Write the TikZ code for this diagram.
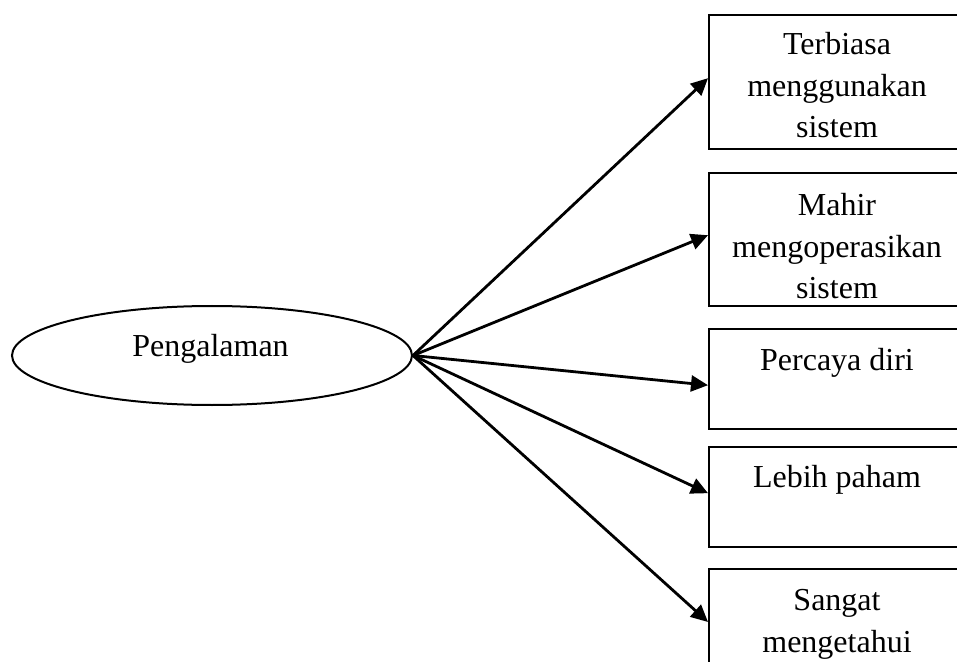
\documentclass[tikz,border=0pt]{standalone}
\usepackage{fontspec}
\setmainfont{Liberation Serif}
\usetikzlibrary{shapes.geometric,arrows.meta}
\begin{document}
\begin{tikzpicture}[x=0.5pt,y=-0.5pt,
  box/.style={draw,line width=1.2pt,rectangle,minimum width=129pt,minimum height=#1,anchor=north west,inner sep=0pt},
  lbl/.style={font=\fontsize{16}{20.75}\selectfont,align=center,anchor=base,inner sep=0pt},
  conn/.style={line width=1.4pt,-{Triangle[length=8.5pt,width=8pt]}}]
\useasboundingbox (0,0) rectangle (957,662);
\clip (0,0) rectangle (957,662);
\node[draw,ellipse,line width=1pt,minimum width=200pt,minimum height=49.5pt,inner sep=0pt] (src) at (212,355.5) {};
\node[lbl] (srct) at (210.5,357) {Pengalaman};
% boxes
\node[box=67pt] (b1) at (708,14) {};
\node[box=66.5pt] (b2) at (708,172) {};
\node[box=50pt] (b3) at (708,328) {};
\node[box=50pt] (b4) at (708,446) {};
\node[box=70pt] (b5) at (708,568) {};
% texts (base anchor = last line's baseline)
\node[lbl] (t1) at (837,138) {Terbiasa\\menggunakan\\sistem};
\begin{scope}
\clip (708,172) rectangle (966,305);
\node[lbl] (t2) at (837,299) {Mahir\\mengoperasikan\\sistem};
\end{scope}
\node[lbl] (t3) at (837,370) {Percaya diri};
\node[lbl] (t4) at (837,487) {Lebih paham};
\node[lbl] (t5) at (837,652) {Sangat\\mengetahui};
% connectors
\draw[conn] (src.east) -- ([yshift=2pt]b1.west);
\draw[conn] (src.east) -- ([yshift=2.25pt]b2.west);
\draw[conn] (src.east) -- ([yshift=-3pt]b3.west);
\draw[conn] (src.east) -- ([yshift=2pt]b4.west);
\draw[conn] (src.east) -- ([yshift=-27pt]b5.north west);
\end{tikzpicture}
\end{document}
